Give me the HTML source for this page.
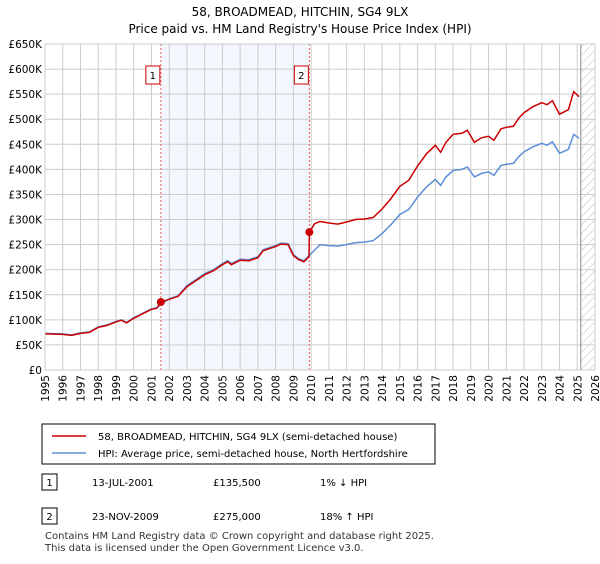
<!DOCTYPE html>
<html><head><meta charset="utf-8"><style>
body{margin:0;background:#fff;font-family:"DejaVu Sans","Liberation Sans",sans-serif;}
svg text{font-family:"DejaVu Sans","Liberation Sans",sans-serif;}
</style></head><body>
<svg id="c" width="600" height="560" xmlns="http://www.w3.org/2000/svg">
<defs><pattern id="hatch" width="6" height="6" patternUnits="userSpaceOnUse" patternTransform="rotate(45)"><line x1="0" y1="0" x2="0" y2="6" stroke="#bbb" stroke-width="1"/></pattern></defs>
<text x="300" y="16" text-anchor="middle" font-size="12">58, BROADMEAD, HITCHIN, SG4 9LX</text>
<text x="300" y="33" text-anchor="middle" font-size="12">Price paid vs. HM Land Registry's House Price Index (HPI)</text>
<g id="plot"></g>
<g>
<rect x="42" y="424" width="393" height="40" fill="#fff" stroke="#000" stroke-width="1"/>
<line x1="52" y1="436" x2="86" y2="436" stroke="#cc0000" stroke-width="1.5"/>
<text x="98" y="440" font-size="10">58, BROADMEAD, HITCHIN, SG4 9LX (semi-detached house)</text>
<line x1="52" y1="453" x2="86" y2="453" stroke="#5b8ed6" stroke-width="1.5"/>
<text x="98" y="457" font-size="10">HPI: Average price, semi-detached house, North Hertfordshire</text>
</g>
<g font-size="10">
<rect x="42" y="474" width="15" height="16" fill="#fff" stroke="#000"/><text x="49.5" y="486" text-anchor="middle">1</text>
<text x="92" y="486">13-JUL-2001</text><text x="213" y="486">£135,500</text><text x="320" y="486">1% ↓ HPI</text>
<rect x="42" y="508" width="15" height="16" fill="#fff" stroke="#000"/><text x="49.5" y="520" text-anchor="middle">2</text>
<text x="92" y="520">23-NOV-2009</text><text x="213" y="520">£275,000</text><text x="320" y="520">18% ↑ HPI</text>
</g>
<text x="45" y="539" font-size="10" fill="#333">Contains HM Land Registry data © Crown copyright and database right 2025.</text>
<text x="45" y="551" font-size="10" fill="#333">This data is licensed under the Open Government Licence v3.0.</text>
</svg>
<script>
const yTicks=[0,50,100,150,200,250,300,350,400,450,500,550,600,650];
const yTickLabels=["£0","£50K","£100K","£150K","£200K","£250K","£300K","£350K","£400K","£450K","£500K","£550K","£600K","£650K"];
const xYears=[1995,1996,1997,1998,1999,2000,2001,2002,2003,2004,2005,2006,2007,2008,2009,2010,2011,2012,2013,2014,2015,2016,2017,2018,2019,2020,2021,2022,2023,2024,2025,2026];
const hpiT=[1995,1996,1996.5,1997,1997.5,1998,1998.5,1999,1999.3,1999.6,2000,2000.5,2001,2001.3,2001.5,2002,2002.5,2003,2003.5,2004,2004.5,2005,2005.3,2005.5,2006,2006.5,2007,2007.3,2008,2008.3,2008.7,2009,2009.3,2009.6,2010,2010.5,2011,2011.5,2012,2012.5,2013,2013.5,2014,2014.5,2015,2015.5,2016,2016.5,2017,2017.3,2017.6,2018,2018.5,2018.8,2019.2,2019.6,2020,2020.3,2020.7,2021,2021.4,2021.7,2022,2022.5,2023,2023.3,2023.6,2024,2024.5,2024.8,2025.1];
const hpiV=[73,72,70,74,76,86,90,97,100,95,104,113,122,124,130,142,148,168,180,192,200,212,218,212,221,220,226,240,248,253,252,230,222,218,232,250,248,247,250,254,255,258,272,290,310,320,345,365,380,368,385,398,400,405,385,392,395,388,408,410,412,425,435,445,452,448,455,432,440,470,462];
const priceT=[1995,1996,1996.5,1997,1997.5,1998,1998.5,1999,1999.3,1999.6,2000,2000.5,2001,2001.3,2001.53,2002,2002.5,2003,2003.5,2004,2004.5,2005,2005.3,2005.5,2006,2006.5,2007,2007.3,2008,2008.3,2008.7,2009,2009.3,2009.6,2009.88,2009.9,2010.2,2010.5,2011,2011.5,2012,2012.5,2013,2013.5,2014,2014.5,2015,2015.5,2016,2016.5,2017,2017.3,2017.6,2018,2018.5,2018.8,2019.2,2019.6,2020,2020.3,2020.7,2021,2021.4,2021.7,2022,2022.5,2023,2023.3,2023.6,2024,2024.5,2024.8,2025.1];
const priceV=[72,71,69,73,75,85,89,96,99,94,103,112,121,123,135.5,141,147,166,178,190,198,210,216,210,219,218,224,238,246,251,250,228,220,216,226,275,292,296,293,291,295,300,301,304,321,342,366,378,407,431,448,434,454,470,472,478,454,463,466,458,481,484,486,502,513,525,533,529,537,510,519,555,545];
const salesT=[2001.53,2009.9];
const salesV=[135.5,275];
const salesLabel=["1","2"];
const ns="http://www.w3.org/2000/svg";
const L=45,R=595,T=44,B=370;
const x=t=>L+(t-1995)*(R-L)/31;
const y=v=>B-v*(B-T)/650;
const g=document.getElementById('plot');
function mk(tag,a){const e=document.createElementNS(ns,tag);for(const k in a)e.setAttribute(k,a[k]);g.appendChild(e);return e;}
let e=mk('rect',{x:x(salesT[0]),y:T,width:x(salesT[1])-x(salesT[0]),height:B-T,fill:'#eef2fc',opacity:0.7});


e=mk('rect',{x:x(2025.2),y:T,width:R-x(2025.2),height:B-T,fill:'url(#hatch)'});


xYears.forEach(t=>{const l=mk('line',{x1:x(t),x2:x(t),y1:T,y2:B,stroke:'#ccc','stroke-width':1});


const tx=mk('text',{x:0,y:0,'font-size':10.5,'text-anchor':'end',transform:`translate(${x(t)+4},${B+5}) rotate(-90)`});tx.textContent=t;

});
yTicks.forEach((v,i)=>{const l=mk('line',{x1:L,x2:R,y1:y(v),y2:y(v),stroke:'#ccc','stroke-width':1});


const tx=mk('text',{x:L-3,y:y(v)+4,'font-size':10.5,'text-anchor':'end'});tx.textContent=yTickLabels[i];

});
e=mk('line',{x1:x(2025.2),x2:x(2025.2),y1:T,y2:B,stroke:'#888','stroke-width':1});


salesT.forEach((t,i)=>{const l=mk('line',{x1:x(t),x2:x(t),y1:T,y2:B,stroke:'#f06060','stroke-width':1,'stroke-dasharray':'2,2'});


const r=mk('rect',{x:x(t)-15,y:66,width:14,height:18,fill:'#fff',stroke:'#cc0000'});


const tx=mk('text',{x:x(t)-8,y:79,'font-size':10,'text-anchor':'middle'});tx.textContent=salesLabel[i];

});
e=mk('path',{d:hpiT.map((t,i)=>(i?'L':'M')+x(t).toFixed(1)+','+y(hpiV[i]).toFixed(1)).join(''),fill:'none',stroke:'#5b8ed6','stroke-width':1.5});


e=mk('path',{d:priceT.map((t,i)=>(i?'L':'M')+x(t).toFixed(1)+','+y(priceV[i]).toFixed(1)).join(''),fill:'none',stroke:'#cc0000','stroke-width':1.5});


salesT.forEach((t,i)=>{const c=mk('circle',{cx:x(t),cy:y(salesV[i]),r:4,fill:'#cc0000'});

});
e=mk('rect',{x:L,y:T,width:R-L,height:B-T,fill:'none',stroke:'#ccc'});


</script>
</body></html>
